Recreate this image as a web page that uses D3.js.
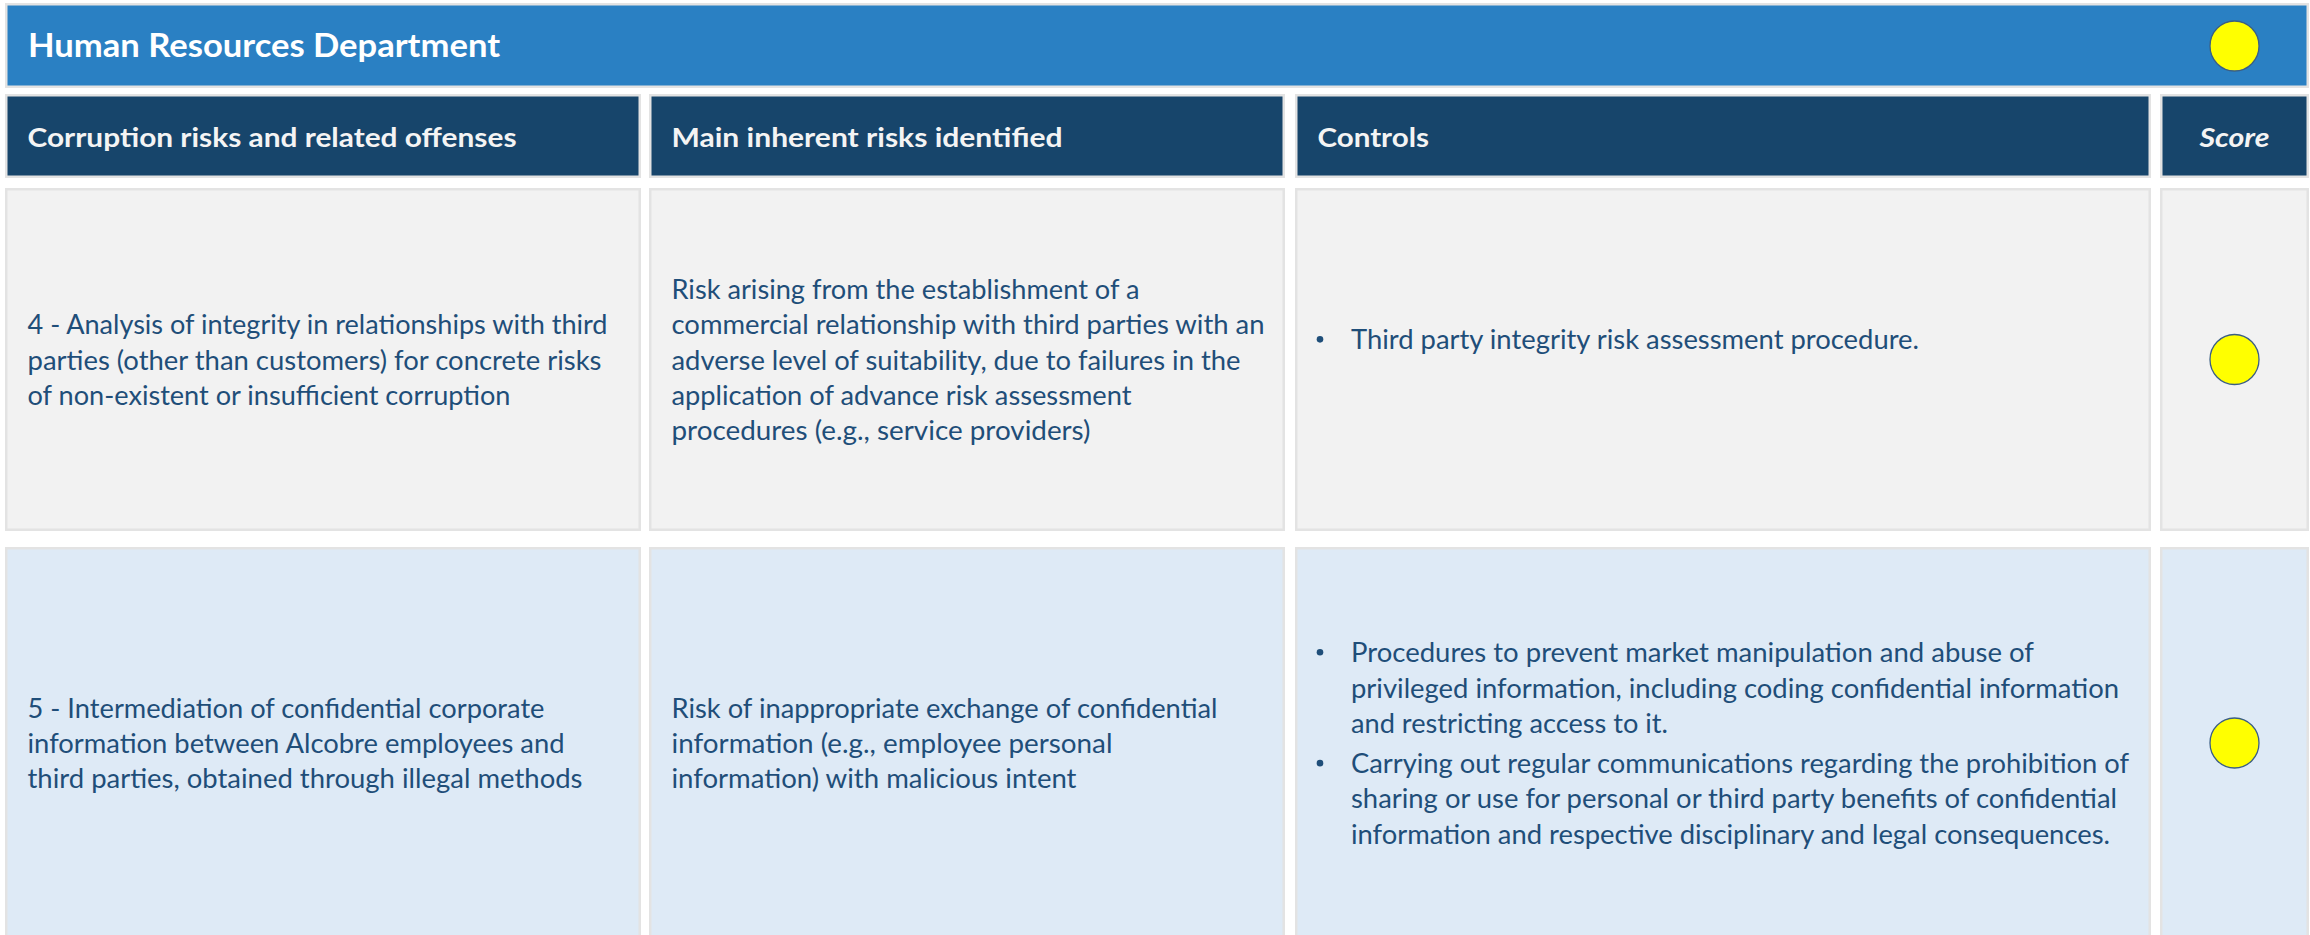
<!DOCTYPE html>
<html>
<head>
<meta charset="utf-8">
<script src="https://cdn.jsdelivr.net/npm/d3@7"></script>
<style>
  html, body { margin: 0; padding: 0; background: #ffffff; }
  svg { display: block; }
</style>
</head>
<body>
<svg id="chart" width="2310" height="935"></svg>
<script>
// ---------------- DATA ----------------
const title = "Human Resources Department";
const titleScore = "medium";
const columns = ["Corruption risks and related offenses", "Main inherent risks identified", "Controls", "Score"];
const offenses = [
  ["4 - Analysis of integrity in relationships with third",
   "parties (other than customers) for concrete risks",
   "of non-existent or insufficient corruption"],
  ["5 - Intermediation of confidential corporate",
   "information between Alcobre employees and",
   "third parties, obtained through illegal methods"]
];
const inherentRisks = [
  ["Risk arising from the establishment of a",
   "commercial relationship with third parties with an",
   "adverse level of suitability, due to failures in the",
   "application of advance risk assessment",
   "procedures (e.g., service providers)"],
  ["Risk of inappropriate exchange of confidential",
   "information (e.g., employee personal",
   "information) with malicious intent"]
];
const controls = [
  [["Third party integrity risk assessment procedure."], []],
  [["Procedures to prevent market manipulation and abuse of",
    "privileged information, including coding confidential information",
    "and restricting access to it."],
   ["Carrying out regular communications regarding the prohibition of",
    "sharing or use for personal or third party benefits of confidential",
    "information and respective disciplinary and legal consequences."]]
];
const scores = ["medium", "medium"];
const scoreLevels = ["low", "medium", "high"];
const scoreColors = ["#00b050", "#ffff00", "#ff0000"];

// ---------------- LAYOUT (typeset widths of the original lines, px) ----------------
const titleWidth = 472;
const headerWidths = [489, 391, 111.5, 70];
const offenseWidths = [[580, 574, 483], [517, 537, 555]];
const riskWidths = [[468, 593, 569, 460, 419], [546, 441, 405]];
const controlWidths = [[[568], []], [[683, 768, 317], [778, 766, 759]]];

const svg = d3.select("#chart");
const color = d3.scaleOrdinal().domain(scoreLevels).range(scoreColors);

const colEdges = [[5, 641], [649, 1285], [1295, 2151], [2160, 2309]];
const titleBand = [3, 88];
const headerBand = [94, 178];
const rowBands = [[188, 531], [547, 939]];
const rowFills = ["#f2f2f2", "#deeaf6"];

const FONT = "Lato, 'Open Sans', 'Liberation Sans', sans-serif";
const TEXT_COLOR = "#1f4e79";
const BODY_SIZE = 26;
const HEAD_SIZE = 26.5;
const LINE_H = 35.3;
const PARA_GAP = 5;
const PAD = 22.5;

function cell(x0, x1, y0, y1, fill) {
  svg.append("rect")
    .attr("x", x0 + 1.25).attr("y", y0 + 1.25)
    .attr("width", x1 - x0 - 2.5).attr("height", y1 - y0 - 2.5)
    .attr("fill", fill)
    .attr("stroke", "#e3e3e3")
    .attr("stroke-width", 2.5);
}

function scoreDot(cx, cy, level) {
  svg.append("ellipse")
    .attr("cx", cx).attr("cy", cy)
    .attr("rx", 24.5).attr("ry", 25)
    .attr("fill", color(level))
    .attr("stroke", "#3b5e84")
    .attr("stroke-width", 1.3);
}

function fitText(sel, width) {
  if (width) sel.attr("textLength", width).attr("lengthAdjust", "spacingAndGlyphs");
  return sel;
}

// Title bar
cell(colEdges[0][0], colEdges[3][1], titleBand[0], titleBand[1], "#2a80c3");
fitText(svg.append("text")
  .attr("x", colEdges[0][0] + 23).attr("y", 56.7)
  .attr("font-family", FONT).attr("font-weight", 700).attr("font-size", 33)
  .attr("fill", "#ffffff")
  .text(title), titleWidth);
scoreDot((colEdges[3][0] + colEdges[3][1]) / 2, (titleBand[0] + titleBand[1]) / 2 + 0.5, titleScore);

// Header row
columns.forEach((c, i) => {
  const [x0, x1] = colEdges[i];
  cell(x0, x1, headerBand[0], headerBand[1], "#17456b");
  const isScore = i === 3;
  fitText(svg.append("text")
    .attr("x", isScore ? (x0 + x1) / 2 : x0 + PAD)
    .attr("y", 146.7)
    .attr("text-anchor", isScore ? "middle" : "start")
    .attr("font-family", FONT).attr("font-weight", 700)
    .attr("font-style", isScore ? "italic" : "normal")
    .attr("font-size", HEAD_SIZE)
    .attr("fill", "#f4f4f4")
    .text(c), headerWidths[i]);
});

function bodyLine(x, y, str, width) {
  fitText(svg.append("text")
    .attr("x", x).attr("y", y)
    .attr("font-family", FONT).attr("font-size", BODY_SIZE)
    .attr("fill", TEXT_COLOR)
    .text(str), width);
}

// Block of lines centred vertically in a row
function textBlock(lines, widths, x, cy) {
  const span = (lines.length - 1) * LINE_H;
  const first = cy + 10 - span / 2;
  lines.forEach((ln, k) => bodyLine(x, first + k * LINE_H, ln, widths[k]));
}

function bulletBlock(paras, widths, x, cy) {
  const items = [];
  let y = 0;
  paras.forEach((p, pi) => {
    if (pi > 0) y += PARA_GAP;
    if (p.length === 0) { items.push({ text: null, y }); y += LINE_H; return; }
    p.forEach((ln, k) => {
      items.push({ text: ln, y, bullet: k === 0, w: widths[pi][k] });
      y += LINE_H;
    });
  });
  const span = items[items.length - 1].y;
  const first = cy + 10 - span / 2;
  items.forEach(it => {
    if (it.text === null) return;
    if (it.bullet) {
      svg.append("circle")
        .attr("cx", x + 1.5).attr("cy", first + it.y - 10)
        .attr("r", 3.3).attr("fill", TEXT_COLOR);
    }
    bodyLine(x + 32.5, first + it.y, it.text, it.w);
  });
}

rowBands.forEach((band, r) => {
  const [y0, y1] = band;
  const cy = (y0 + y1) / 2;
  colEdges.forEach(([x0, x1]) => cell(x0, x1, y0, y1, rowFills[r]));
  textBlock(offenses[r], offenseWidths[r], colEdges[0][0] + PAD, cy);
  textBlock(inherentRisks[r], riskWidths[r], colEdges[1][0] + PAD, cy);
  bulletBlock(controls[r], controlWidths[r], colEdges[2][0] + 23.5, cy);
  scoreDot((colEdges[3][0] + colEdges[3][1]) / 2, cy, scores[r]);
});
</script>
</body>
</html>
